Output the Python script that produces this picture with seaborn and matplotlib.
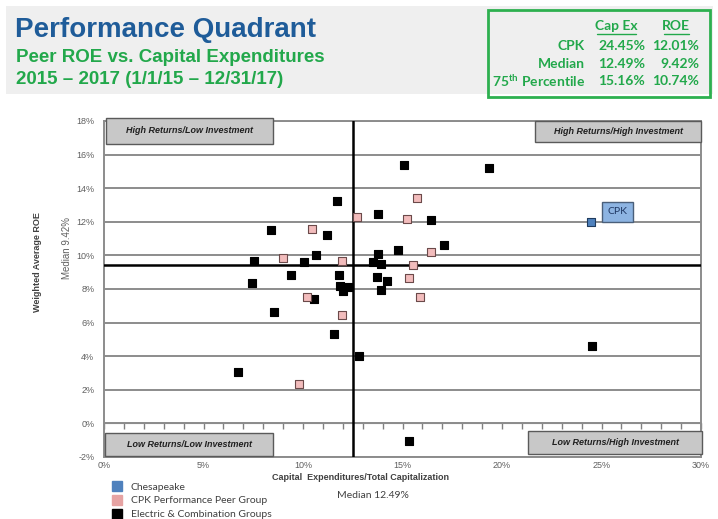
import matplotlib.pyplot as plt
import matplotlib.patches as mpatches
from matplotlib.lines import Line2D
import seaborn as sns
import pandas as pd

# Electric & Combination Groups (black squares), % values
ec_capex = [11.72, 13.75, 8.37, 11.21, 10.67, 7.52, 10.03, 13.50, 13.79, 13.90,
            9.41, 11.83, 7.44, 13.74, 14.20, 11.86, 12.24, 11.99, 13.90, 10.55,
            8.56, 11.54, 12.83, 6.73, 15.09, 19.35, 16.45, 17.07, 14.77, 24.51, 15.34]
ec_roe = [13.23, 12.44, 11.54, 11.24, 10.03, 9.65, 9.61, 9.61, 10.11, 9.46,
          8.84, 8.86, 8.34, 8.74, 8.50, 8.18, 8.09, 7.91, 7.93, 7.43,
          6.61, 5.32, 4.01, 3.08, 15.36, 15.18, 12.08, 10.61, 10.31, 4.61, -1.05]

# CPK Performance Peer Group (pink squares)
peer_capex = [12.73, 10.47, 8.99, 11.94, 10.18, 11.96, 9.82, 15.71, 15.24, 16.42, 15.53, 15.34, 15.90]
peer_roe = [12.29, 11.56, 9.83, 9.65, 7.53, 6.46, 2.36, 13.39, 12.16, 10.21, 9.40, 8.64, 7.55]

# Chesapeake
cpk_capex = [24.45]
cpk_roe = [12.01]

median_capex = 12.49
median_roe = 9.42
p75_capex = 15.16
p75_roe = 10.74

groups = ['Chesapeake', 'CPK Performance Peer Group', 'Electric & Combination Groups']
x_ticks = [0, 5, 10, 15, 20, 25, 30]
y_ticks = list(range(-2, 19, 2))

df = pd.concat([
    pd.DataFrame({'capex': ec_capex, 'roe': ec_roe, 'group': groups[2]}),
    pd.DataFrame({'capex': peer_capex, 'roe': peer_roe, 'group': groups[1]}),
    pd.DataFrame({'capex': cpk_capex, 'roe': cpk_roe, 'group': groups[0]}),
])

sns.set_style('white')
plt.rcParams['font.family'] = ['Liberation Sans', 'DejaVu Sans']
plt.rcParams['mathtext.fontset'] = 'custom'
plt.rcParams['mathtext.rm'] = 'Lato:bold'
plt.rcParams['mathtext.it'] = 'Lato:bold'
plt.rcParams['mathtext.bf'] = 'Lato:bold'

W, H = 718, 519
def fx(px): return px / W
def fy(py): return 1 - py / H

fig = plt.figure(figsize=(W / 100, H / 100), dpi=100)
fig.patch.set_facecolor('white')

# header
fig.add_artist(mpatches.Rectangle((fx(6), fy(94)), (713 - 6) / W, (94 - 6) / H,
                                  transform=fig.transFigure, fc='#EFEFEF', ec='none'))
fig.text(fx(15), fy(30), 'Performance Quadrant', fontsize=20, weight='bold', color='#1F5C99', va='center')
fig.text(fx(16), fy(57), 'Peer ROE vs. Capital Expenditures', fontsize=13.5, weight='bold', color='#22A84B', va='center')
fig.text(fx(16), fy(80), '2015 \u2013 2017 (1/1/15 \u2013 12/31/17)', fontsize=13.5, weight='bold', color='#22A84B', va='center')

# summary table box
green = '#22A84B'
fig.add_artist(mpatches.Rectangle((fx(488), fy(97)), (710 - 488) / W, (97 - 10) / H,
                                  transform=fig.transFigure, fill=False, ec='#2DB04F', lw=2))
tkw = dict(fontsize=10, weight='bold', color=green, family=['Lato', 'DejaVu Sans'], va='center')
fig.text(fx(616), fy(26), 'Cap Ex', ha='center', **tkw)
fig.text(fx(676), fy(26), 'ROE', ha='center', **tkw)
fig.add_artist(Line2D([fx(597), fx(636)], [fy(34), fy(34)], color=green, lw=1))
fig.add_artist(Line2D([fx(664), fx(689)], [fy(34), fy(34)], color=green, lw=1))
rows = [('CPK', cpk_capex[0], cpk_roe[0]),
        ('Median', median_capex, median_roe),
        (r'75$^{\mathrm{th}}$ Percentile', p75_capex, p75_roe)]
for i, (lab, cx, ro) in enumerate(rows):
    yy = fy(46 + i * 17.5)
    fig.text(fx(585), yy, lab, ha='right', **tkw)
    fig.text(fx(645), yy, f'{cx:.2f}%', ha='right', **tkw)
    fig.text(fx(699), yy, f'{ro:.2f}%', ha='right', **tkw)

# main plot
ax = fig.add_axes([fx(104), fy(457), (701 - 104) / W, (457 - 121) / H])
styles = {
    groups[2]: dict(color='black', edgecolor='black', s=38),
    groups[1]: dict(color='#F2BCBC', edgecolor='#6B4A4A', s=26),
    groups[0]: dict(color='#4F81BD', edgecolor='#1F3B5E', s=26),
}
for g in [groups[2], groups[1], groups[0]]:
    sns.scatterplot(data=df[df['group'] == g], x='capex', y='roe', marker='s',
                    linewidth=0.8, ax=ax, zorder=5, legend=False, **styles[g])

ax.set_xlim(0, 30)
ax.set_ylim(-2, 18)
ax.set_xticks(x_ticks, labels=[f'{t}%' for t in x_ticks])
ax.set_yticks(y_ticks, labels=[f'{t}%' for t in y_ticks])
ax.tick_params(axis='x', length=0, pad=3, labelsize=6.5, labelcolor='#606060')
ax.tick_params(axis='y', length=4, width=1, color='#808080', pad=3, labelsize=6.5, labelcolor='#606060')
ax.yaxis.grid(True, color='#8C8C8C', lw=1.4)
ax.xaxis.grid(False)
ax.set_xlabel('')
ax.set_ylabel('')
for sp in ax.spines.values():
    sp.set_color('#8C8C8C')
    sp.set_linewidth(1.4)

# Excel style horizontal axis crossing at 0% with small tick marks
sec = ax.secondary_xaxis(0.1)
sec.set_xticks(range(0, 31))
sec.tick_params(length=4, width=1, color='#808080', labelbottom=False)
sec.spines['bottom'].set_color('#8C8C8C')

ax.axvline(median_capex, color='black', lw=1.8, zorder=4)
ax.axhline(median_roe, color='black', lw=1.8, zorder=4)

# quadrant labels
quads = [
    ('High Returns/Low Investment', 0.003, 0.932, 0.283, 1.010),
    ('High Returns/High Investment', 0.722, 0.937, 1.000, 1.000),
    ('Low Returns/Low Investment', 0.002, 0.003, 0.283, 0.071),
    ('Low Returns/High Investment', 0.710, 0.009, 1.002, 0.077),
]
for lab, x0, y0, x1, y1 in quads:
    ax.add_patch(mpatches.Rectangle((x0, y0), x1 - x0, y1 - y0, transform=ax.transAxes,
                                    fc='#C8C8C8', ec='#5A5A5A', lw=1, zorder=6, clip_on=False))
    ax.text((x0 + x1) / 2, (y0 + y1) / 2, lab, transform=ax.transAxes, ha='center', va='center',
            fontsize=6.5, weight='bold', style='italic', color='#202020', zorder=7)

ax.annotate('CPK', xy=(cpk_capex[0], cpk_roe[0]), xytext=(19.5, 7), textcoords='offset points',
            ha='center', va='center', fontsize=7.5, color='#1F3864', zorder=7,
            family=['Lato', 'DejaVu Sans'],
            bbox=dict(boxstyle='square,pad=0.5', fc='#8DB4E2', ec='#4A5F7A', lw=1))

# axis titles
fig.text(fx(38), fy(262), 'Weighted Average ROE', rotation=90, ha='center', va='center',
         fontsize=6.5, weight='bold', color='#404040')
fig.text(fx(67), fy(248), f'Median {median_roe:.2f}%', rotation=90, ha='center', va='center',
         fontsize=7, color='#606060')
fig.text(fx(360), fy(478), 'Capital  Expenditures/Total Capitalization', ha='center', va='center',
         fontsize=6.5, weight='bold', color='#404040')
fig.text(fx(373), fy(495), f'Median {median_capex:.2f}%', ha='center', va='center',
         fontsize=7.5, color='#404040', family=['Lato', 'DejaVu Sans'])

# legend
leg_colors = ['#4F81BD', '#E6A3A3', 'black']
handles = [Line2D([], [], marker='s', ls='', markersize=7.5, mfc=c, mec=c) for c in leg_colors]
fig.legend(handles, groups, loc='upper left', bbox_to_anchor=(fx(108), fy(477)), frameon=False,
           handlelength=0.8, handletextpad=0.9, labelspacing=0.45, borderpad=0,
           labelcolor='#404040', prop={'family': ['Lato', 'DejaVu Sans'], 'size': 7.5})

fig.savefig('out.png', dpi=100)
